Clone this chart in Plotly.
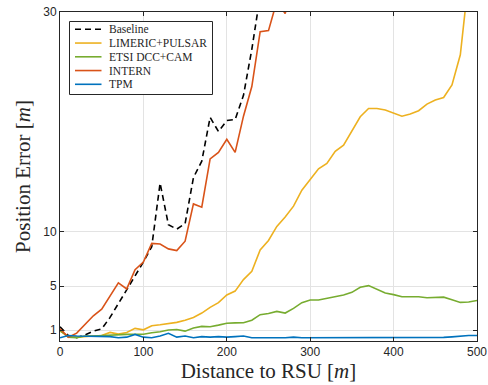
import plotly.graph_objects as go

# Distance to the RSU, sampled every 10 m
distance = list(range(0, 501, 10))

baseline = [1.3, 0.5, 0.3, 0.55, 0.9, 1.1, 2.15, 3.4, 4.75, 6.0,
            7.2, 8.6, 14.4, 10.6, 10.2, 10.7, 14.9, 16.4, 20.4, 19.1,
            20.1, 20.2, 22.4, 26.6, 31.5] + [None] * 26

limeric_pulsar = [0.9, 0.45, 0.35, 0.4, 0.45, 0.5, 0.78, 0.63, 0.78, 1.15,
                  1.02, 1.39, 1.48, 1.6, 1.7, 1.9, 2.15, 2.55, 3.07, 3.5,
                  4.2, 4.55, 5.6, 6.35, 8.3, 9.17, 10.45, 11.3, 12.3, 13.75,
                  14.7, 15.7, 16.2, 17.3, 17.86, 19.1, 20.45, 21.2, 21.2, 21.06,
                  20.76, 20.5, 20.7, 21.0, 21.6, 21.97, 22.2, 23.35, 26.1, 33.5,
                  40.0]

etsi_dcc_cam = [0.95, 0.35, 0.3, 0.45, 0.45, 0.5, 0.55, 0.6, 0.6, 0.62,
                0.62, 0.75, 0.84, 1.0, 1.05, 0.9, 1.18, 1.33, 1.3, 1.45,
                1.62, 1.65, 1.66, 1.9, 2.4, 2.5, 2.7, 2.55, 2.97, 3.5,
                3.74, 3.74, 3.9, 4.07, 4.2, 4.44, 4.9, 5.05, 4.75, 4.38,
                4.23, 4.04, 4.04, 4.04, 3.95, 4.0, 4.0, 3.77, 3.52, 3.56,
                3.7]

intern = [1.1, 0.35, 0.72, 1.55, 2.3, 2.9, 4.1, 5.3, 4.75, 6.5,
          7.2, 8.9, 8.85, 8.4, 8.25, 9.1, 12.5, 12.2, 16.6, 17.2,
          18.4, 17.2, 20.5, 23.2, 28.2, 28.3, 31.0, 29.85, 33.0] + [None] * 22

tpm = [0.3, 0.5, 0.45, 0.45, 0.4, 0.45, 0.4, 0.3, 0.35, 0.6,
       0.35, 0.3, 0.45, 0.7, 0.35, 0.45, 0.3, 0.4, 0.35, 0.4,
       0.35, 0.4, 0.45, 0.3, 0.28, 0.28, 0.3, 0.3, 0.35, 0.3,
       0.3, 0.3, 0.32, 0.32, 0.33, 0.33, 0.33, 0.33, 0.33, 0.33,
       0.33, 0.33, 0.32, 0.32, 0.32, 0.32, 0.33, 0.38, 0.45, 0.5,
       0.5]

series_names = ["Baseline", "LIMERIC+PULSAR", "ETSI DCC+CAM", "INTERN", "TPM"]
series_values = [baseline, limeric_pulsar, etsi_dcc_cam, intern, tpm]
series_colors = ["#000000", "#EDB120", "#77AC30", "#D95319", "#0072BD"]
series_dash = ["6px,4px", "solid", "solid", "solid", "solid"]

x_ticks = [0, 100, 200, 300, 400, 500]
y_ticks = [1, 5, 10, 30]

W, H = 488, 385
M_L, M_R, M_T, M_B = 60, 11, 12, 44
plot_w = W - M_L - M_R
plot_h = H - M_T - M_B

SERIF = "Liberation Serif, Times New Roman, serif"
SANS = "Liberation Sans, Arial, sans-serif"

fig = go.Figure()
for name, vals, col, dash in zip(series_names, series_values, series_colors, series_dash):
    fig.add_trace(go.Scatter(
        x=distance, y=vals, mode="lines", name=name,
        line=dict(color=col, width=1.6, dash=dash),
        connectgaps=False, showlegend=False, cliponaxis=True,
    ))

axis_common = dict(
    showline=True, linecolor="#262626", linewidth=1, mirror="allticks",
    ticks="inside", ticklen=4, tickwidth=1, tickcolor="#262626",
    showgrid=True, gridcolor="#e3e3e3", gridwidth=1, zeroline=False,
    tickfont=dict(family=SANS, size=12, color="#262626"),
)

fig.update_xaxes(
    range=[0, 500], tickvals=x_ticks, ticktext=[str(v) for v in x_ticks],
    title=dict(text="Distance to RSU [<i>m</i>]", standoff=4,
               font=dict(family=SERIF, size=21, color="#262626")),
    **axis_common,
)
fig.update_yaxes(
    range=[0, 30], tickvals=y_ticks, ticktext=[str(v) for v in y_ticks],
    title=dict(text="Position Error [<i>m</i>]", standoff=6,
               font=dict(family=SERIF, size=21, color="#262626")),
    **axis_common,
)

# Legend box drawn in paper coordinates (pixel offsets inside the plot area)
def px_x(p):
    return (p - M_L) / plot_w

def px_y(p):
    return (M_T + plot_h - p) / plot_h

shapes = [dict(type="rect", xref="paper", yref="paper",
               x0=px_x(69.5), x1=px_x(212.5), y0=px_y(94.5), y1=px_y(21.5),
               line=dict(color="#262626", width=1), fillcolor="white", layer="above")]
annotations = []
row0, row_step = 29.3, 13.75
for i, (name, col, dash) in enumerate(zip(series_names, series_colors, series_dash)):
    yy = px_y(row0 + i * row_step)
    shapes.append(dict(type="line", xref="paper", yref="paper",
                       x0=px_x(75), x1=px_x(101.5), y0=yy, y1=yy,
                       line=dict(color=col, width=1.6, dash=dash),
                       layer="above"))
    annotations.append(dict(xref="paper", yref="paper", x=px_x(106.5), y=yy,
                            xanchor="left", yanchor="middle", showarrow=False, text=name,
                            font=dict(family=SERIF, size=11.5, color="#262626")))

fig.update_layout(
    width=W, height=H,
    margin=dict(l=M_L, r=M_R, t=M_T, b=M_B, autoexpand=False),
    paper_bgcolor="white", plot_bgcolor="white",
    shapes=shapes, annotations=annotations,
    showlegend=False,
)

fig.write_html("out.html")
